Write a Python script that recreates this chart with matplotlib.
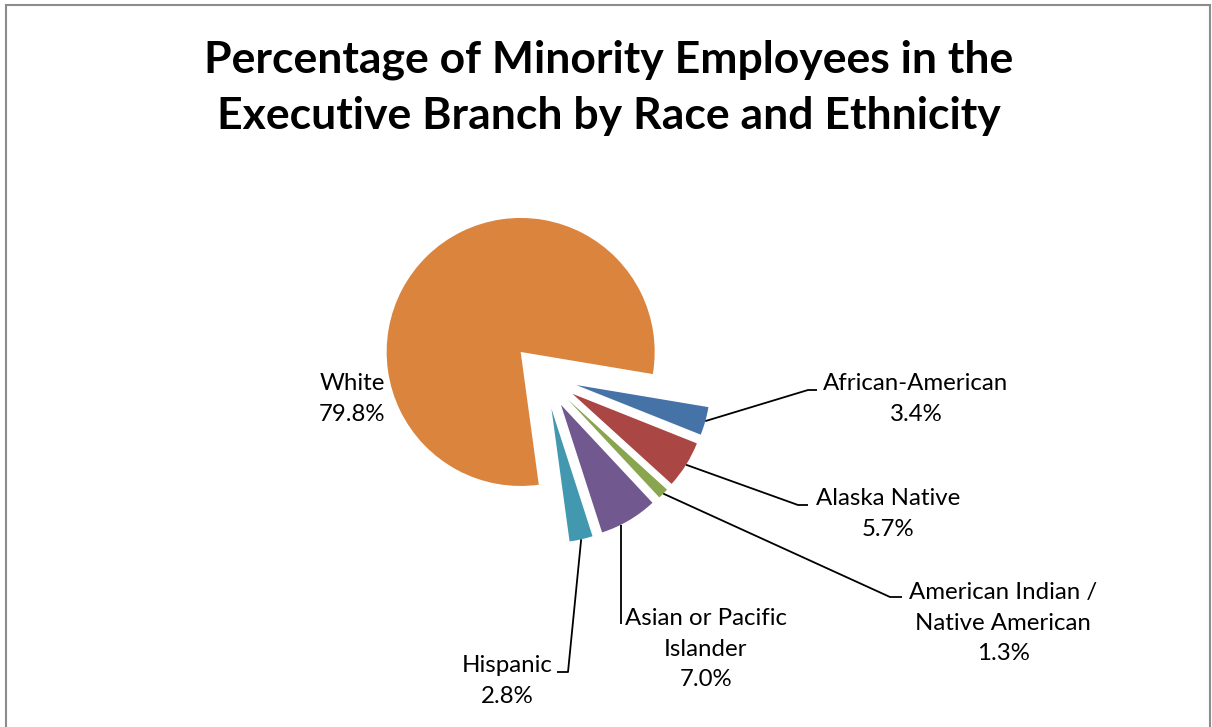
import math
import matplotlib
matplotlib.use("Agg")
from matplotlib import pyplot as plt
from matplotlib.lines import Line2D

# data
categories = ["African-American", "Alaska Native", "American Indian /\nNative American",
              "Asian or Pacific\nIslander", "Hispanic", "White"]
percents = [3.4, 5.7, 1.3, 7.0, 2.8, 79.8]
colors = ["#4572A7", "#AA4643", "#89A54E", "#71588F", "#4198AF", "#DB843D"]

W, H = 1212, 727
RADIUS = 134
CENTER = (544, H - 376)

plt.rcParams['font.family'] = ['Lato', 'DejaVu Sans']

fig = plt.figure(figsize=(W / 100, H / 100), dpi=100)
ax = fig.add_axes([0, 0, 1, 1])

wedges, _ = ax.pie(percents, colors=colors, startangle=-9.5, counterclock=False,
                   radius=RADIUS, center=CENTER,
                   explode=[0.25 * RADIUS] * len(percents),
                   wedgeprops=dict(linewidth=0))

# pie() resets the limits, so set them afterwards
ax.set_xlim(0, W)
ax.set_ylim(0, H)
ax.set_aspect('equal')
ax.axis('off')

# label layout (pixel coords, y from top): text centre, elbow point, end of leader
layout = {
    "African-American": ((916, 399), (808, 390), (817, 390)),
    "Alaska Native": ((888, 514), (798, 505), (808, 505)),
    "American Indian /\nNative American": ((1003, 623), (890, 597), (902, 597)),
    "Asian or Pacific\nIslander": ((706, 649), None, (621, 624)),
    "Hispanic": ((507, 681), (568, 672), (557, 672)),
    "White": ((352, 399), None, None),
}

for w, cat, pct in zip(wedges, categories, percents):
    (tx, ty), elbow, end = layout[cat]
    ax.text(tx, H - ty, f"{cat}\n{pct:.1f}%", ha='center', va='center',
            fontsize=17.3, linespacing=1.55, color='black')
    if end is None:
        continue
    if elbow is None:
        # straight vertical leader: start on the arc right above the end point
        ang = -math.acos((end[0] - w.center[0]) / w.r)
    else:
        ang = math.radians((w.theta1 + w.theta2) / 2)
    sx = w.center[0] + w.r * math.cos(ang)
    sy = w.center[1] + w.r * math.sin(ang)
    xs, ys = [sx], [sy]
    if elbow is not None:
        xs.append(elbow[0]); ys.append(H - elbow[1])
    xs.append(end[0]); ys.append(H - end[1])
    ax.plot(xs, ys, color='black', lw=1.3, solid_capstyle='butt')

ax.text(609, H - 88, "Percentage of Minority Employees in the\nExecutive Branch by Race and Ethnicity",
        ha='center', va='center', fontsize=32, fontweight='bold', linespacing=1.5)

# chart border (bottom edge is cut off in the original)
border = dict(color='#8c8c8c', lw=1.5, transform=fig.transFigure)
fig.add_artist(Line2D([6 / W, 1210 / W], [1 - 5 / H, 1 - 5 / H], **border))
fig.add_artist(Line2D([6 / W, 6 / W], [0, 1 - 5 / H], **border))
fig.add_artist(Line2D([1210 / W, 1210 / W], [0, 1 - 5 / H], **border))

fig.savefig("out.png", dpi=100)
